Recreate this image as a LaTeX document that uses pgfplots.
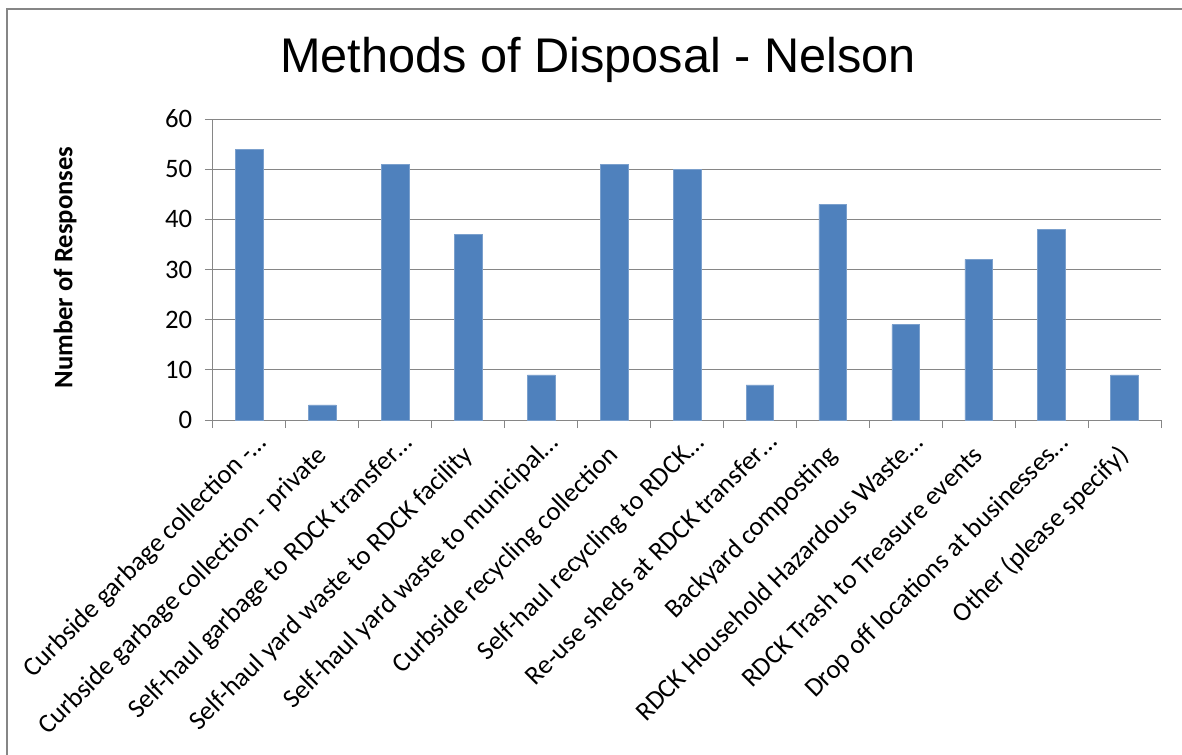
\documentclass[border=0pt]{standalone}
\usepackage{fontspec}
\setmainfont{Carlito}
\newfontfamily\arialfont{Liberation Sans}
\usepackage{pgfplots}
\pgfplotsset{compat=1.18}
\definecolor{barblue}{HTML}{4F81BD}
\definecolor{gridgray}{HTML}{868686}
% truncated labels: the ellipsis hangs past the label's end
\newcommand{\trunc}{\rlap{…}}

\begin{document}
\begin{tikzpicture}
% 1 px of the reference = 0.75pt, axis origin at px (213,420)
\path[use as bounding box] (-159.75pt,-250.5pt) rectangle (726.75pt,315pt);
\draw[gridgray, line width=1.5pt] (-154.5pt,-270pt) -- (-154.5pt,308.25pt) -- (740pt,308.25pt);
\begin{axis}[
    at={(0pt,0pt)}, anchor=south west,
    scale only axis,
    width=711pt, height=225.75pt,
    xmin=-0.5, xmax=12.5,
    ymin=0, ymax=60,
    ytick={0,10,...,60},
    xtick={0,...,12},
    xticklabels={
        Curbside garbage collection -\trunc,
        Curbside garbage collection - private,
        Self-haul garbage to RDCK transfer\trunc,
        Self-haul yard waste to RDCK facility,
        Self-haul yard waste to municipal\trunc,
        Curbside recycling collection,
        Self-haul recycling to RDCK\trunc,
        Re-use sheds at RDCK transfer\trunc,
        Backyard composting,
        RDCK Household Hazardous Waste\trunc,
        RDCK Trash to Treasure events,
        Drop off locations at businesses\trunc,
        Other (please specify)},
    minor xtick={-0.5,0.5,...,12.5},
    minor ytick={0,10,...,60},
    major tick length=0pt,
    minor tick length=6pt,
    tick align=outside,
    minor tick style={gridgray, line width=0.75pt},
    axis x line*=bottom,
    axis y line*=left,
    axis line style={gridgray, line width=0.75pt, -},
    ymajorgrids,
    major grid style={gridgray, line width=0.75pt},
    /pgf/number format/assume math mode=true,
    tick label style={font=\fontsize{20}{24}\selectfont, black},
    xticklabel style={xshift=4.2pt, yshift=-27.6pt, rotate=45, anchor=base east, inner sep=0pt},
    yticklabel style={inner sep=0pt, xshift=-15.5pt},
    title={Methods of Disposal - Nelson},
    title style={font=\arialfont\fontsize{36.5}{40}\selectfont,
        at={(axis description cs:0.406,1.128)}, anchor=base},
    ylabel={Number of Responses},
    ylabel style={font=\bfseries\fontsize{20}{24}\selectfont,
        at={(axis description cs:-0.156,0.507)}, anchor=center},
]
\addplot[ybar, bar width=0.38, fill=barblue, draw=barblue!75!white, line width=0.5pt]
    coordinates {
    (0,54) (1,3) (2,51) (3,37) (4,9) (5,51) (6,50)
    (7,7) (8,43) (9,19) (10,32) (11,38) (12,9)
    };
\end{axis}
\end{tikzpicture}
\end{document}
